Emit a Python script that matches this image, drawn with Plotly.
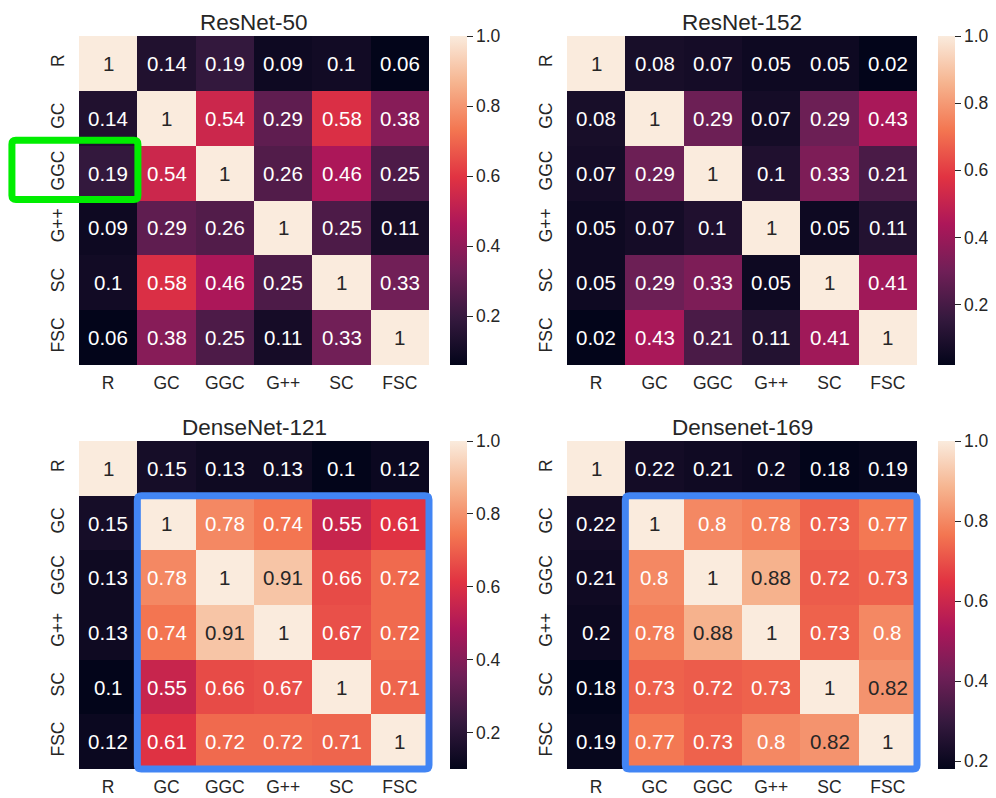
import plotly.graph_objects as go

labels = ["R", "GC", "GGC", "G++", "SC", "FSC"]

titles = ["ResNet-50", "ResNet-152", "DenseNet-121", "Densenet-169"]

resnet50 = [
    [1, 0.14, 0.19, 0.09, 0.1, 0.06],
    [0.14, 1, 0.54, 0.29, 0.58, 0.38],
    [0.19, 0.54, 1, 0.26, 0.46, 0.25],
    [0.09, 0.29, 0.26, 1, 0.25, 0.11],
    [0.1, 0.58, 0.46, 0.25, 1, 0.33],
    [0.06, 0.38, 0.25, 0.11, 0.33, 1],
]
resnet152 = [
    [1, 0.08, 0.07, 0.05, 0.05, 0.02],
    [0.08, 1, 0.29, 0.07, 0.29, 0.43],
    [0.07, 0.29, 1, 0.1, 0.33, 0.21],
    [0.05, 0.07, 0.1, 1, 0.05, 0.11],
    [0.05, 0.29, 0.33, 0.05, 1, 0.41],
    [0.02, 0.43, 0.21, 0.11, 0.41, 1],
]
densenet121 = [
    [1, 0.15, 0.13, 0.13, 0.1, 0.12],
    [0.15, 1, 0.78, 0.74, 0.55, 0.61],
    [0.13, 0.78, 1, 0.91, 0.66, 0.72],
    [0.13, 0.74, 0.91, 1, 0.67, 0.72],
    [0.1, 0.55, 0.66, 0.67, 1, 0.71],
    [0.12, 0.61, 0.72, 0.72, 0.71, 1],
]
densenet169 = [
    [1, 0.22, 0.21, 0.2, 0.18, 0.19],
    [0.22, 1, 0.8, 0.78, 0.73, 0.77],
    [0.21, 0.8, 1, 0.88, 0.72, 0.73],
    [0.2, 0.78, 0.88, 1, 0.73, 0.8],
    [0.18, 0.73, 0.72, 0.73, 1, 0.82],
    [0.19, 0.77, 0.73, 0.8, 0.82, 1],
]
matrices = [resnet50, resnet152, densenet121, densenet169]
cbar_ticks = [0.2, 0.4, 0.6, 0.8, 1.0]

# seaborn "rocket" colormap (approximate stops)
rocket = [
    [0.0, "#03051a"],
    [1 / 7, "#35193e"],
    [2 / 7, "#701f57"],
    [3 / 7, "#ad1759"],
    [4 / 7, "#e13342"],
    [5 / 7, "#f37651"],
    [6 / 7, "#f6b48f"],
    [1.0, "#faebdd"],
]


def hex2rgb(h):
    h = h.lstrip("#")
    return [int(h[i:i + 2], 16) / 255 for i in (0, 2, 4)]


def interp(t):
    t = min(max(t, 0), 1)
    for (p0, c0), (p1, c1) in zip(rocket[:-1], rocket[1:]):
        if p0 <= t <= p1:
            f = (t - p0) / (p1 - p0) if p1 > p0 else 0
            a, b = hex2rgb(c0), hex2rgb(c1)
            return [a[i] + (b[i] - a[i]) * f for i in range(3)]
    return hex2rgb(rocket[-1][1])


def lum(rgb):
    def lin(c):
        return c / 12.92 if c <= 0.03928 else ((c + 0.055) / 1.055) ** 2.4
    r, g, b = (lin(c) for c in rgb)
    return 0.2126 * r + 0.7152 * g + 0.0722 * b


# the page has an 8px body margin, so the figure is drawn 8px in from the corner
OFF = 8
W, H = 996 - OFF, 798 - OFF
# pixel boxes of the heatmaps (window coordinates)
xdom = [(79, 429), (567, 917), (79, 429), (567, 917)]
ydom = [(36, 365), (36, 365), (441, 769), (441, 769)]

FONT = "Liberation Sans, Arial, sans-serif"
DARK = "#262626"

fig = go.Figure()
annotations = []
shapes = []
idx = list(range(len(labels)))


def X(v):
    return (v - OFF) / W


def Y(v):
    return 1 - (v - OFF) / H


def rounded_box(k, ax0, ax1, ay0, ay1, color, r=4):
    """Outline box given in axis units of subplot k, drawn in paper units."""
    x0p, x1p = xdom[k]
    y0p, y1p = ydom[k]
    n = len(labels)
    px = lambda a: x0p + (a + 0.5) / n * (x1p - x0p)
    py = lambda a: y0p + (a + 0.5) / n * (y1p - y0p)
    L, R_, T, B = px(ax0), px(ax1), py(ay0), py(ay1)
    path = (
        f"M {X(L + r)},{Y(T)} L {X(R_ - r)},{Y(T)} Q {X(R_)},{Y(T)} {X(R_)},{Y(T + r)} "
        f"L {X(R_)},{Y(B - r)} Q {X(R_)},{Y(B)} {X(R_ - r)},{Y(B)} "
        f"L {X(L + r)},{Y(B)} Q {X(L)},{Y(B)} {X(L)},{Y(B - r)} "
        f"L {X(L)},{Y(T + r)} Q {X(L)},{Y(T)} {X(L + r)},{Y(T)} Z"
    )
    return dict(type="path", xref="paper", yref="paper", path=path,
                line=dict(color=color, width=7))


for k, (mat, title) in enumerate(zip(matrices, titles)):
    n = k + 1
    sfx = "" if n == 1 else str(n)
    x0, x1 = xdom[k]
    y0, y1 = ydom[k]
    xd = [X(x0), X(x1)]
    yd = [Y(y1), Y(y0)]
    zmin = min(min(r) for r in mat)
    fig.add_trace(go.Heatmap(
        z=mat, x=idx, y=idx,
        xaxis="x" + sfx, yaxis="y" + sfx,
        colorscale=rocket, zmin=zmin, zmax=1,
        hoverinfo="skip",
        colorbar=dict(
            x=X(x1 + 21), xanchor="left", xref="paper",
            y=(yd[0] + yd[1]) / 2, yanchor="middle",
            len=(yd[1] - yd[0]), lenmode="fraction",
            thickness=17, thicknessmode="pixels",
            outlinewidth=0, ypad=0, xpad=0,
            ticks="outside", ticklen=6, tickwidth=1.3, tickcolor=DARK,
            tickvals=cbar_ticks, tickformat=".1f",
            tickfont=dict(family=FONT, size=17.5, color=DARK),
        ),
    ))
    fig.layout["xaxis" + sfx] = dict(
        domain=xd, anchor="y" + sfx, range=[-0.5, 5.5],
        tickvals=idx, ticktext=labels, showgrid=False, zeroline=False,
        showline=False, ticks="outside", ticklen=2, tickcolor="rgba(0,0,0,0)",
        tickfont=dict(family=FONT, size=17.5, color=DARK),
    )
    fig.layout["yaxis" + sfx] = dict(
        domain=yd, anchor="x" + sfx, range=[5.5, -0.5],
        tickvals=idx, ticktext=labels, showgrid=False, zeroline=False,
        showline=False, ticks="outside", ticklen=7, tickcolor="rgba(0,0,0,0)",
        tickangle=-90,
        tickfont=dict(family=FONT, size=17.5, color=DARK),
    )
    annotations.append(dict(
        text=title, xref="paper", yref="paper",
        x=(xd[0] + xd[1]) / 2, y=yd[1], yshift=-1,
        xanchor="center", yanchor="bottom", showarrow=False,
        font=dict(family=FONT, size=22.5, color=DARK),
    ))
    for i, row in enumerate(mat):
        for j, v in enumerate(row):
            t = (v - zmin) / (1 - zmin)
            col = DARK if lum(interp(t)) > 0.408 else "#ffffff"
            annotations.append(dict(
                text=f"{v:g}", x=j, y=i, xref="x" + sfx, yref="y" + sfx,
                showarrow=False,
                font=dict(family=FONT, size=20.5, color=col),
            ))

# highlight boxes
shapes.append(rounded_box(0, -1.65, 0.51, 1.40, 2.48, "#00ee00"))
shapes.append(rounded_box(2, 0.5, 5.5, 0.5, 5.5, "#4285f4"))
shapes.append(rounded_box(3, 0.5, 5.5, 0.5, 5.5, "#4285f4"))

fig.update_layout(
    width=W, height=H,
    margin=dict(l=0, r=0, t=0, b=0, autoexpand=False),
    paper_bgcolor="white", plot_bgcolor="white",
    annotations=annotations, shapes=shapes,
    font=dict(family=FONT, color=DARK),
)

fig.write_html("out.html")
